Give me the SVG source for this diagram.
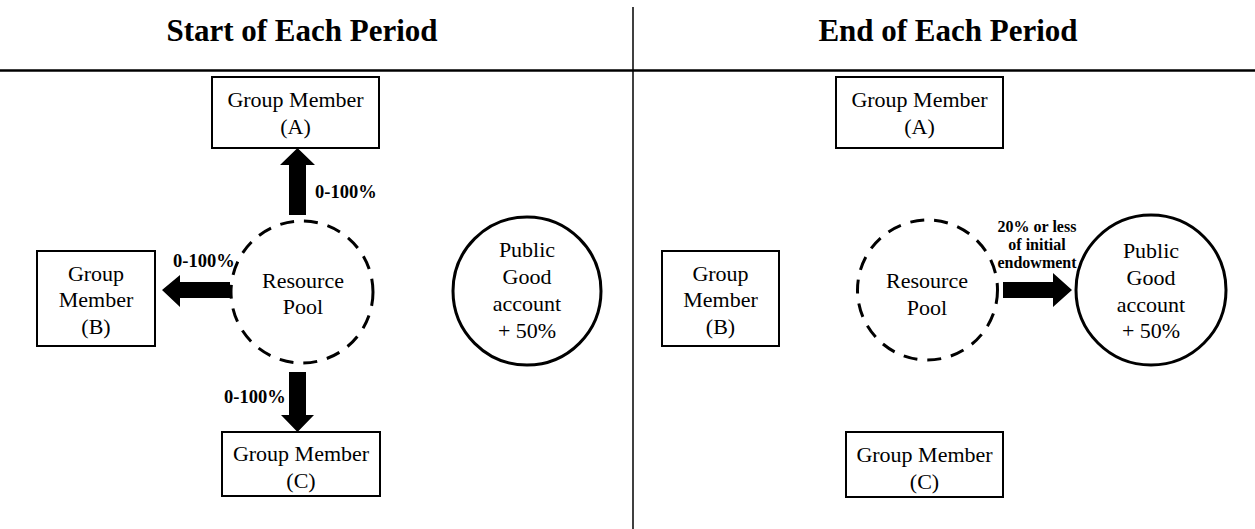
<svg xmlns="http://www.w3.org/2000/svg" width="1255" height="529" viewBox="0 0 1255 529">
<style>
.t{font-family:"Liberation Serif","Times New Roman",serif;font-size:22px;fill:#000;text-anchor:middle}
.h{font-family:"Liberation Serif","Times New Roman",serif;font-size:31px;font-weight:bold;fill:#000;text-anchor:middle}
.l{font-family:"Liberation Serif","Times New Roman",serif;font-size:18.5px;font-weight:bold;fill:#000}
.s{font-family:"Liberation Serif","Times New Roman",serif;font-size:16px;font-weight:bold;fill:#000;text-anchor:middle}
.box{fill:#fff;stroke:#000;stroke-width:2}
.pool{fill:none;stroke:#000;stroke-width:3;stroke-dasharray:14 10}
.pg{fill:none;stroke:#000;stroke-width:3}
.arr{fill:#000}
</style>
<rect width="1255" height="529" fill="#fff"/>
<g id="frame">
<line x1="633" y1="7" x2="633" y2="529" stroke="#000" stroke-width="1.5"/>
<line x1="0" y1="70.5" x2="1255" y2="70.5" stroke="#000" stroke-width="2.5"/>
<text class="h" x="302" y="41">Start of Each Period</text>
<text class="h" x="948" y="41">End of Each Period</text>
</g>
<g id="connectors">
<polygon class="arr" points="289,215 306,215 306,165 315,165 297.5,148 280,165 289,165"/>
<polygon class="arr" points="289,372 306,372 306,415 314,415 297.5,432 281,415 289,415"/>
<polygon class="arr" points="230,282 230,298 180,298 180,307 162,290 180,275 180,282"/>
<polygon class="arr" points="1003,282 1003,298 1053,298 1053,307 1072,290 1053,273 1053,282"/>
<text class="l" x="315" y="198">0-100%</text>
<text class="l" x="173" y="267">0-100%</text>
<text class="l" x="224" y="403">0-100%</text>
<text class="s" x="1037" y="232">20% or less</text>
<text class="s" x="1037" y="250">of initial</text>
<text class="s" x="1037" y="268">endowment</text>
</g>
<g id="L-memberA">
<rect class="box" x="212" y="77" width="167" height="71"/>
<text class="t" x="295.5" y="107">Group Member</text>
<text class="t" x="295.5" y="134">(A)</text>
</g>
<g id="L-memberB">
<rect class="box" x="37" y="251" width="118" height="95"/>
<text class="t" x="96" y="281">Group</text>
<text class="t" x="96" y="307">Member</text>
<text class="t" x="96" y="334">(B)</text>
</g>
<g id="L-memberC">
<rect class="box" x="222" y="432" width="158" height="64"/>
<text class="t" x="301" y="461">Group Member</text>
<text class="t" x="301" y="488">(C)</text>
</g>
<g id="L-pool">
<circle class="pool" cx="302" cy="292" r="71"/>
<text class="t" x="303" y="288">Resource</text>
<text class="t" x="303" y="314">Pool</text>
</g>
<g id="L-public">
<circle class="pg" cx="527" cy="291" r="74"/>
<text class="t" x="527" y="257">Public</text>
<text class="t" x="527" y="284">Good</text>
<text class="t" x="527" y="311">account</text>
<text class="t" x="527" y="338">+ 50%</text>
</g>
<g id="R-memberA">
<rect class="box" x="836" y="77" width="167" height="71"/>
<text class="t" x="919.5" y="107">Group Member</text>
<text class="t" x="919.5" y="134">(A)</text>
</g>
<g id="R-memberB">
<rect class="box" x="662" y="251" width="117" height="95"/>
<text class="t" x="720.5" y="281">Group</text>
<text class="t" x="720.5" y="307">Member</text>
<text class="t" x="720.5" y="334">(B)</text>
</g>
<g id="R-memberC">
<rect class="box" x="846" y="432" width="157" height="65"/>
<text class="t" x="924.5" y="462">Group Member</text>
<text class="t" x="924.5" y="489">(C)</text>
</g>
<g id="R-pool">
<circle class="pool" cx="927.5" cy="290" r="70"/>
<text class="t" x="927" y="288">Resource</text>
<text class="t" x="927" y="315">Pool</text>
</g>
<g id="R-public">
<circle class="pg" cx="1151" cy="290" r="75"/>
<text class="t" x="1151" y="258">Public</text>
<text class="t" x="1151" y="285">Good</text>
<text class="t" x="1151" y="312">account</text>
<text class="t" x="1151" y="338">+ 50%</text>
</g>
</svg>
